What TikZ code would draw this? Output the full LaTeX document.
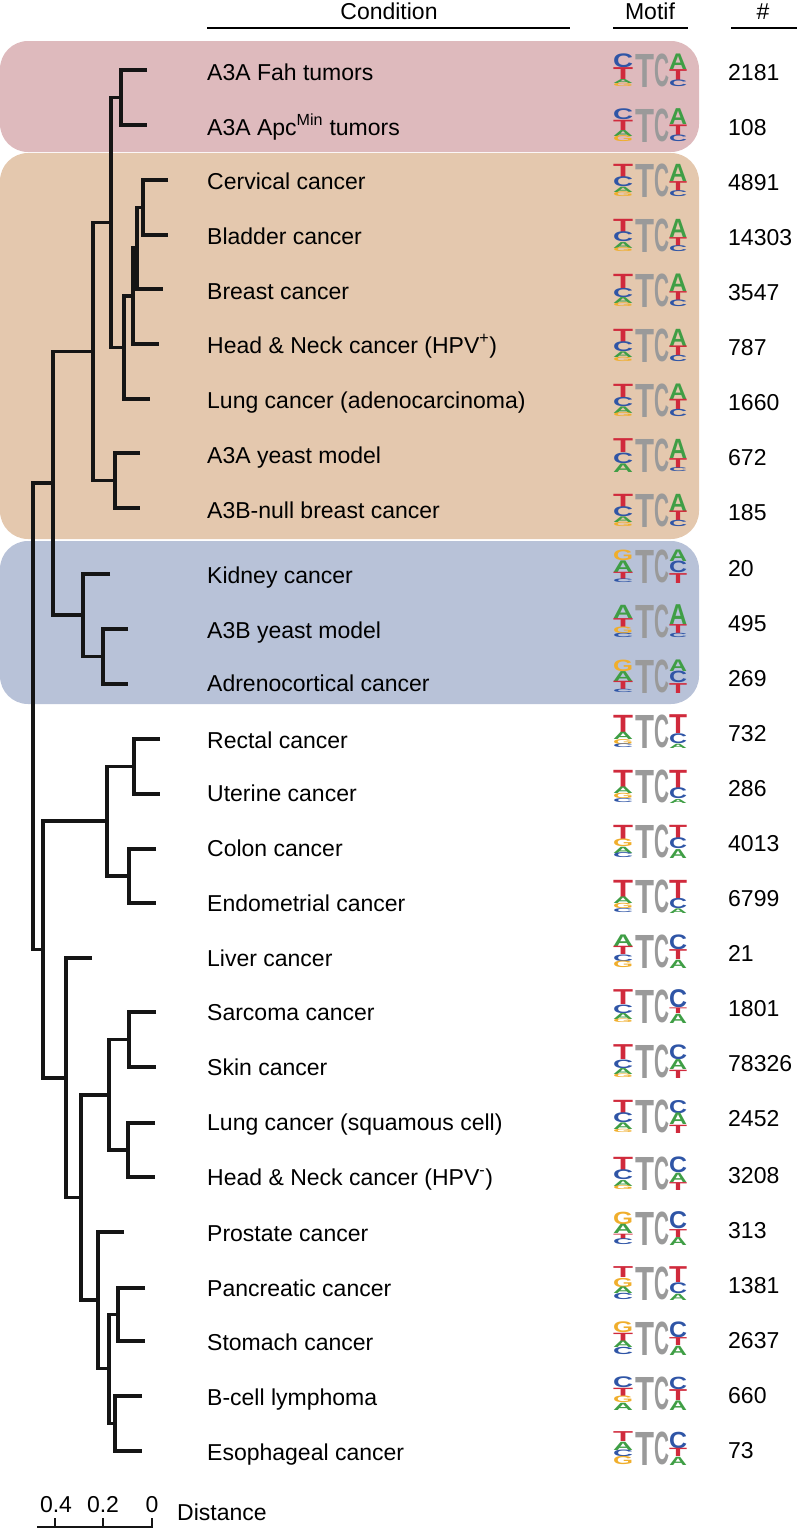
\documentclass[tikz,border=0pt]{standalone}
\usepackage{fontspec}
\usepackage{graphicx}
\setmainfont{Liberation Sans}
\definecolor{bgpink}{HTML}{DEBABD}
\definecolor{bgtan}{HTML}{E4C8AE}
\definecolor{bgblue}{HTML}{B8C2D8}
\definecolor{colA}{HTML}{3F9E45}
\definecolor{colC}{HTML}{2F55A6}
\definecolor{colG}{HTML}{F0AE2C}
\definecolor{colT}{HTML}{D02A3C}
\definecolor{logogrey}{HTML}{9A9A9A}
\definecolor{treeblack}{HTML}{151515}
\tikzset{
  lbl/.style={anchor=base west, inner sep=0pt, font=\fontsize{23}{27}\selectfont},
  num/.style={anchor=base west, inner sep=0pt, font=\fontsize{23}{27}\selectfont},
  hdr/.style={anchor=base, inner sep=0pt, font=\fontsize{23}{27}\selectfont},
  hline/.style={line width=2.6pt, black},
  br/.style={line width=3.2pt, treeblack, line join=miter},
  sbar/.style={line width=2.2pt, treeblack},
  logoletter/.style={anchor=north west, inner sep=0pt, outer sep=0pt},
  band/.style={rounded corners=28pt, draw=none}
}
\newcommand\logoh{33}
\newcommand\stackcol[4]{%
  \xdef\cury{#3}%
  \foreach \myl/\myf in {#4}{%
    \pgfmathsetmacro\hh{\myf*\logoh}%
    \node[logoletter, text=col\myl] at (#1,\cury) {\resizebox*{#2pt}{\hh pt}{\bfseries\myl}};%
    \pgfmathsetmacro\ny{\cury+\hh}%
    \xdef\cury{\ny}%
  }}
\newcommand\motif[3]{%
  \stackcol{613}{20}{#1}{#2}%
  \node[logoletter,text=logogrey] at (635,#1) {\resizebox*{19pt}{\logoh pt}{\bfseries T}};%
  \node[logoletter,text=logogrey] at (654,#1) {\resizebox*{15pt}{\logoh pt}{\bfseries C}};%
  \stackcol{669}{18}{#1}{#3}}
\begin{document}
\begin{tikzpicture}[x=1pt,y=-1pt]
\useasboundingbox (0,0) rectangle (797,1529);
% background bands
\fill[band, bgpink] (0,41) rectangle (699,152);
\fill[band, bgtan] (0,153) rectangle (699,539);
\fill[band, bgblue] (0,541) rectangle (699,704);
% headers
\node[hdr] (hcond) at (389,19) {Condition};
\node[hdr] (hmotif) at (650,19) {Motif};
\node[hdr] (hnum) at (763,19) {\#};
\draw[hline] (207,28) -- (570,28);
\draw[hline] (613,28) -- (688,28);
\draw[hline] (731,28) -- (797,28);
% condition labels
\node[lbl] (l1) at (207,80) {A3A Fah tumors};
\node[lbl] (l2) at (207,135) {A3A Apc\textsuperscript{Min} tumors};
\node[lbl] (l3) at (207,189) {Cervical cancer};
\node[lbl] (l4) at (207,244) {Bladder cancer};
\node[lbl] (l5) at (207,299) {Breast cancer};
\node[lbl] (l6) at (207,353) {Head \& Neck cancer (HPV\textsuperscript{+})};
\node[lbl] (l7) at (207,408) {Lung cancer (adenocarcinoma)};
\node[lbl] (l8) at (207,463) {A3A yeast model};
\node[lbl] (l9) at (207,518) {A3B-null breast cancer};
\node[lbl] (l10) at (207,583) {Kidney cancer};
\node[lbl] (l11) at (207,638) {A3B yeast model};
\node[lbl] (l12) at (207,691) {Adrenocortical cancer};
\node[lbl] (l13) at (207,748) {Rectal cancer};
\node[lbl] (l14) at (207,801) {Uterine cancer};
\node[lbl] (l15) at (207,856) {Colon cancer};
\node[lbl] (l16) at (207,911) {Endometrial cancer};
\node[lbl] (l17) at (207,966) {Liver cancer};
\node[lbl] (l18) at (207,1020) {Sarcoma cancer};
\node[lbl] (l19) at (207,1075) {Skin cancer};
\node[lbl] (l20) at (207,1130) {Lung cancer (squamous cell)};
\node[lbl] (l21) at (207,1185) {Head \& Neck cancer (HPV\textsuperscript{-})};
\node[lbl] (l22) at (207,1241) {Prostate cancer};
\node[lbl] (l23) at (207,1296) {Pancreatic cancer};
\node[lbl] (l24) at (207,1350) {Stomach cancer};
\node[lbl] (l25) at (207,1405) {B-cell lymphoma};
\node[lbl] (l26) at (207,1460) {Esophageal cancer};
% numbers
\node[num] (n1) at (728,80) {2181};
\node[num] (n2) at (728,135) {108};
\node[num] (n3) at (728,190) {4891};
\node[num] (n4) at (728,245) {14303};
\node[num] (n5) at (728,300) {3547};
\node[num] (n6) at (728,355) {787};
\node[num] (n7) at (728,410) {1660};
\node[num] (n8) at (728,465) {672};
\node[num] (n9) at (728,520) {185};
\node[num] (n10) at (728,576) {20};
\node[num] (n11) at (728,631) {495};
\node[num] (n12) at (728,686) {269};
\node[num] (n13) at (728,741) {732};
\node[num] (n14) at (728,796) {286};
\node[num] (n15) at (728,851) {4013};
\node[num] (n16) at (728,906) {6799};
\node[num] (n17) at (728,961) {21};
\node[num] (n18) at (728,1016) {1801};
\node[num] (n19) at (728,1071) {78326};
\node[num] (n20) at (728,1126) {2452};
\node[num] (n21) at (728,1183) {3208};
\node[num] (n22) at (728,1238) {313};
\node[num] (n23) at (728,1293) {1381};
\node[num] (n24) at (728,1348) {2637};
\node[num] (n25) at (728,1403) {660};
\node[num] (n26) at (728,1458) {73};
% motifs (top y = number row - 18)
\motif{54}{C/.42,T/.36,A/.12,G/.10}{A/.47,T/.33,C/.20}
\motif{109}{C/.33,T/.31,A/.18,G/.18}{A/.48,T/.32,C/.20}
\motif{164}{T/.40,C/.30,A/.16,G/.14}{A/.52,T/.30,C/.18}
\motif{219}{T/.40,C/.30,A/.18,G/.12}{A/.55,T/.27,C/.18}
\motif{274}{T/.43,C/.28,A/.18,G/.11}{A/.53,T/.27,C/.20}
\motif{329}{T/.40,C/.30,A/.17,G/.13}{A/.52,T/.29,C/.19}
\motif{384}{T/.40,C/.28,A/.20,G/.12}{A/.47,T/.31,C/.22}
\motif{439}{T/.42,C/.32,A/.26}{A/.58,T/.30,C/.12}
\motif{494}{T/.40,C/.30,A/.17,G/.13}{A/.52,T/.29,C/.19}
\motif{550}{G/.32,A/.35,T/.22,C/.11}{A/.35,C/.35,T/.30}
\motif{605}{A/.40,T/.27,G/.20,C/.13}{A/.60,T/.27,C/.13}
\motif{660}{G/.35,A/.30,T/.25,C/.10}{A/.35,C/.35,T/.30}
\motif{715}{T/.52,A/.22,G/.15,C/.11}{T/.57,C/.30,A/.13}
\motif{770}{T/.52,A/.20,G/.16,C/.12}{T/.55,C/.33,A/.12}
\motif{825}{T/.43,G/.23,A/.19,C/.15}{T/.40,C/.33,A/.27}
\motif{880}{T/.52,A/.20,G/.16,C/.12}{T/.55,C/.31,A/.14}
\motif{935}{A/.35,T/.25,C/.20,G/.20}{C/.45,T/.30,A/.25}
\motif{990}{T/.45,C/.26,A/.18,G/.11}{C/.55,T/.17,A/.28}
\motif{1045}{T/.45,C/.26,A/.18,G/.11}{C/.45,A/.30,T/.25}
\motif{1100}{T/.40,C/.30,A/.20,G/.10}{C/.40,A/.35,T/.25}
\motif{1157}{T/.40,C/.30,A/.18,G/.12}{C/.48,A/.28,T/.24}
\motif{1212}{G/.38,A/.28,T/.16,C/.18}{C/.52,T/.24,A/.24}
\motif{1267}{T/.33,G/.28,A/.20,C/.19}{T/.48,C/.33,A/.19}
\motif{1322}{G/.33,T/.25,A/.20,C/.22}{C/.48,T/.24,A/.28}
\motif{1377}{C/.33,T/.25,G/.20,A/.22}{C/.38,T/.33,A/.29}
\motif{1432}{T/.30,A/.25,C/.20,G/.25}{C/.50,T/.25,A/.25}
% dendrogram
\draw[br] (147,70) -- (121,70) -- (121,125) -- (147,125);
\draw[br] (168,180) -- (143,180) -- (143,235) -- (168,235);
\draw[br] (143,207.5) -- (137,207.5) -- (137,289) -- (163,289);
\draw[br] (137,248) -- (133,248) -- (133,344) -- (159,344);
\draw[br] (133,296) -- (124,296) -- (124,399) -- (150,399);
\draw[br] (121,97.5) -- (111,97.5) -- (111,347.5) -- (124,347.5);
\draw[br] (140,453) -- (115,453) -- (115,508) -- (140,508);
\draw[br] (111,222.5) -- (93,222.5) -- (93,480.5) -- (115,480.5);
\draw[br] (128,629) -- (103,629) -- (103,684) -- (128,684);
\draw[br] (110,574) -- (83,574) -- (83,656.5) -- (103,656.5);
\draw[br] (93,351.5) -- (53,351.5) -- (53,615) -- (83,615);
\draw[br] (160,739) -- (134,739) -- (134,794) -- (160,794);
\draw[br] (156,849) -- (129,849) -- (129,903) -- (156,903);
\draw[br] (134,766.5) -- (107,766.5) -- (107,876) -- (129,876);
\draw[br] (156,1012) -- (129,1012) -- (129,1067) -- (156,1067);
\draw[br] (155,1123) -- (128,1123) -- (128,1177) -- (155,1177);
\draw[br] (129,1039.5) -- (109,1039.5) -- (109,1150) -- (128,1150);
\draw[br] (145,1288) -- (118,1288) -- (118,1341) -- (145,1341);
\draw[br] (142,1396) -- (115,1396) -- (115,1451) -- (142,1451);
\draw[br] (118,1314.5) -- (109,1314.5) -- (109,1423.5) -- (115,1423.5);
\draw[br] (124,1232) -- (98,1232) -- (98,1368.5) -- (109,1368.5);
\draw[br] (109,1095) -- (81,1095) -- (81,1300) -- (98,1300);
\draw[br] (92,958) -- (66,958) -- (66,1197.5) -- (81,1197.5);
\draw[br] (107,821) -- (43,821) -- (43,1078) -- (66,1078);
\draw[br] (53,483) -- (33,483) -- (33,949.5) -- (43,949.5);
% scale bar
\draw[sbar] (37,1527) -- (152,1527);
\draw[sbar] (55,1518) -- (55,1527);
\draw[sbar] (103,1518) -- (103,1527);
\draw[sbar] (152,1518) -- (152,1528);
\node[hdr] (s04) at (56,1512) {0.4};
\node[hdr] (s02) at (103,1512) {0.2};
\node[hdr] (s0) at (152,1512) {0};
\node[lbl] (sdist) at (177,1520) {Distance};
\end{tikzpicture}
\end{document}
